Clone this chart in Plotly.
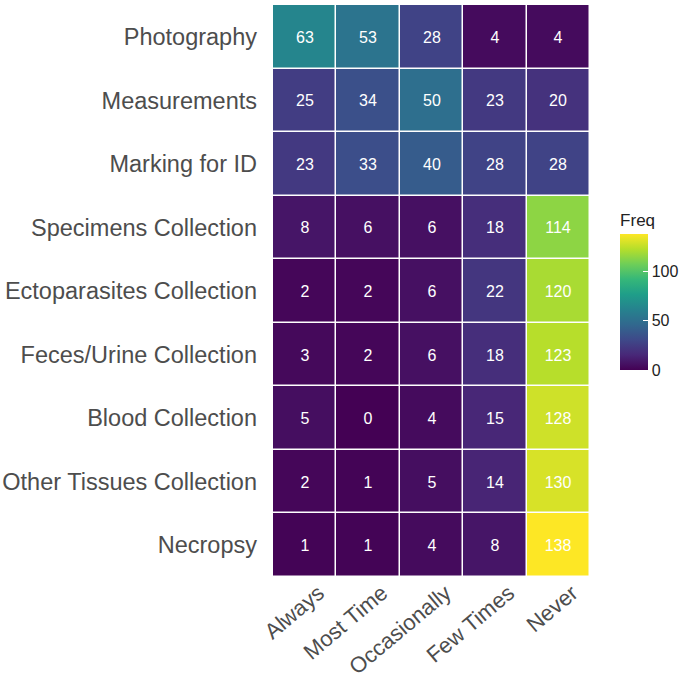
import plotly.graph_objects as go

activities = ["Photography", "Measurements", "Marking for ID", "Specimens Collection",
              "Ectoparasites Collection", "Feces/Urine Collection", "Blood Collection",
              "Other Tissues Collection", "Necropsy"]
frequency = ["Always", "Most Time", "Occasionally", "Few Times", "Never"]

freq = [
    [63, 53, 28, 4, 4],
    [25, 34, 50, 23, 20],
    [23, 33, 40, 28, 28],
    [8, 6, 6, 18, 114],
    [2, 2, 6, 22, 120],
    [3, 2, 6, 18, 123],
    [5, 0, 4, 15, 128],
    [2, 1, 5, 14, 130],
    [1, 1, 4, 8, 138],
]

FONT = "Liberation Sans, Arial, sans-serif"

fig = go.Figure()
fig.add_trace(go.Heatmap(
    z=freq,
    x=frequency,
    y=activities,
    colorscale="Viridis",
    zmin=0,
    zmax=max(max(r) for r in freq),
    xgap=1.5,
    ygap=1.5,
    texttemplate="%{z}",
    textfont=dict(color="white", size=16, family=FONT),
    colorbar=dict(
        title=dict(text="Freq", side="top", font=dict(size=17, color="#222222", family=FONT)),
        tickvals=[0, 50, 100],
        tickprefix="\u00a0\u00a0",
        ticks="inside",
        tickcolor="white",
        ticklen=5,
        tickfont=dict(size=16, color="#222222", family=FONT),
        thickness=28,
        lenmode="pixels",
        len=160,
        x=1.095,
        xanchor="left",
        xpad=0,
        y=0.362,
        yanchor="bottom",
        ypad=0,
        outlinewidth=0,
    ),
))

fig.update_layout(
    width=685,
    height=685,
    plot_bgcolor="#FFFFFF",
    paper_bgcolor="#FFFFFF",
    font=dict(family=FONT, color="#4d4d4d"),
    margin=dict(l=273, r=95, t=5, b=108, autoexpand=False),
    xaxis=dict(tickangle=-40, tickfont=dict(size=22, color="#4d4d4d"),
               showgrid=False, zeroline=False, ticks="", automargin=False,
               ticklabelshift=14, ticklabelstandoff=-2),
    yaxis=dict(autorange="reversed", tickfont=dict(size=23.5, color="#4d4d4d"),
               showgrid=False, zeroline=False, ticks="", automargin=False,
               ticklabelstandoff=15),
)

fig.write_html("out.html", config={"displayModeBar": False},
               post_script="document.body.style.margin='0';")
